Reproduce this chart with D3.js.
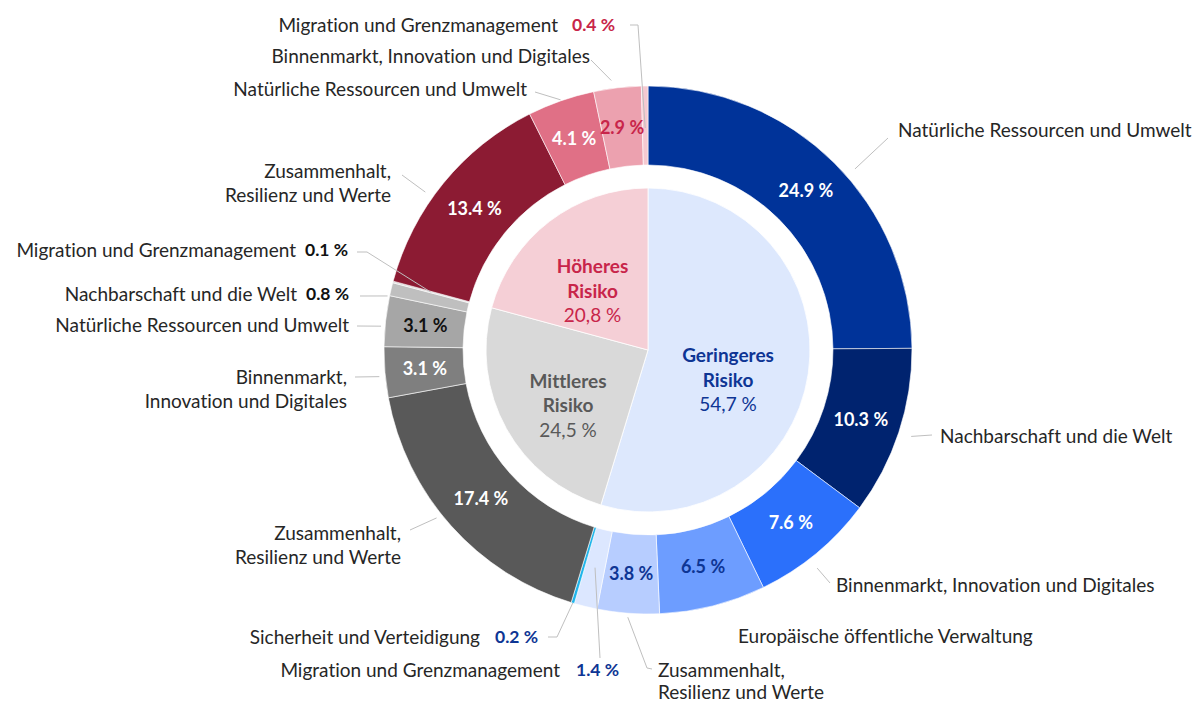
<!DOCTYPE html>
<html>
<head>
<meta charset="utf-8">
<script src="https://cdn.jsdelivr.net/npm/d3@7"></script>
<style>
  body { margin: 0; background: #fff; }
  svg { display: block; font-family: Lato, "Open Sans", sans-serif; font-variant-ligatures: none; }
</style>
</head>
<body>
<svg width="1195" height="702"></svg>
<script>
// inner pie: share by risk level
var riskLevels = ["Geringeres Risiko", "Mittleres Risiko", "Höheres Risiko"];
var riskShares = [54.7, 24.5, 20.8];

// outer ring: areas inside each risk level, clockwise from 12 o'clock
var geringeresAreas = ["Natürliche Ressourcen und Umwelt", "Nachbarschaft und die Welt",
  "Binnenmarkt, Innovation und Digitales", "Europäische öffentliche Verwaltung",
  "Zusammenhalt, Resilienz und Werte", "Migration und Grenzmanagement", "Sicherheit und Verteidigung"];
var geringeresShares = [24.9, 10.3, 7.6, 6.5, 3.8, 1.4, 0.2];

var mittleresAreas = ["Zusammenhalt, Resilienz und Werte", "Binnenmarkt, Innovation und Digitales",
  "Natürliche Ressourcen und Umwelt", "Nachbarschaft und die Welt", "Migration und Grenzmanagement"];
var mittleresShares = [17.4, 3.1, 3.1, 0.8, 0.1];

var hoeheresAreas = ["Zusammenhalt, Resilienz und Werte", "Natürliche Ressourcen und Umwelt",
  "Binnenmarkt, Innovation und Digitales", "Migration und Grenzmanagement"];
var hoeheresShares = [13.4, 4.1, 2.9, 0.4];

// colours
var innerColors = ["#dde8fd", "#d9d9d9", "#f5cfd6"];
var innerTextColors = ["#0e3594", "#595959", "#c8254a"];
var outerColors = ["#003399", "#00236f", "#2b70fb", "#6d9dff", "#b7cdff", "#dce7ff", "#1fb4ea",
  "#595959", "#7f7f7f", "#a6a6a6", "#bfbfbf", "#d9d9d9",
  "#8c1b33", "#e07086", "#eca1af", "#f5c9d1"];
var pctColors = ["#fff", "#fff", "#fff", "#0e3594", "#0e3594", "#0e3594", "#0e3594",
  "#fff", "#fff", "#111", "#111", "#111",
  "#fff", "#fff", "#c8254a", "#c8254a"];

// label placement, one entry per outer slice (same order)
// inside: percentage drawn in the ring; wrap: break name after the comma
// lead: leader line, da = angle shift (deg) of the ring end, r = radius of ring end
var outerLabelLayout = [
  {x: 898, y: 130, anchor: "start", inside: true, lead: {da: 4, r: 275, pts: [[888, 138]]}},
  {x: 940, y: 436, anchor: "start", inside: true, lead: {da: 0, r: 277, pts: [[932, 435]]}},
  {x: 836, y: 585, anchor: "start", inside: true, lead: {da: 1.8, r: 276, pts: [[830, 583]]}},
  {x: 738, y: 636, anchor: "start", inside: true, lead: null},
  {x: 658, y: 670, anchor: "start", inside: true, wrap: true, gap: 22, lead: {da: 0, r: 268, pts: [[652, 669], [647, 668]]}},
  {x: 560, y: 670, anchor: "end", inside: false, px: 576, lead: {da: 0, r: 224, pts: [[600, 658]]}},
  {x: 480, y: 637, anchor: "end", inside: false, px: 495, lead: {da: 0, r: 264, pts: [[548, 637], [557, 637]]}},
  {x: 401, y: 533, anchor: "end", inside: true, wrap: true, lead: {da: 3.3, r: 270, pts: [[410, 530]]}},
  {x: 347, y: 377, anchor: "end", inside: true, wrap: true, lead: {da: -0.8, r: 270, pts: [[355, 377]]}},
  {x: 349, y: 325, anchor: "end", inside: true, lead: {da: -1.2, r: 268, pts: [[357, 326]]}},
  {x: 297, y: 294, anchor: "end", inside: false, px: 306, lead: {da: -1.6, r: 266, pts: [[360, 296]]}},
  {x: 296, y: 250, anchor: "end", inside: false, px: 305, lead: {da: 0, r: 225, pts: [[357, 252], [367, 252]]}},
  {x: 391, y: 171, anchor: "end", inside: true, wrap: true, lead: {da: -3.9, r: 273, pts: [[402, 175]]}},
  {x: 527, y: 89, anchor: "end", inside: true, lead: {da: 0, r: 265, pts: [[535, 92]]}},
  {x: 590, y: 56, anchor: "end", inside: true, lead: {da: -1.1, r: 272, pts: [[591, 60]]}},
  {x: 558, y: 25, anchor: "end", inside: false, px: 572, lead: {da: 0, r: 222, pts: [[630, 25], [638, 25]]}}
];
var innerLabelNudge = [[-7, 17], [-3, 13], [-2, 11]];

var cx = 648, cy = 350;
var rPie = 162, rRingIn = 185, rRingOut = 264, rPctLabel = 224;
var lineGap = 24.5;
var textColor = "#262626", leaderColor = "#bfbfbf";

var svg = d3.select("svg");
var g = svg.append("g").attr("transform", "translate(" + cx + "," + cy + ")");

var innerData = riskLevels.map((d, i) => ({name: d, value: riskShares[i], i: i}));

var outerData = [];
function addGroup(areas, shares) {
  areas.forEach((a, j) => outerData.push({name: a, value: shares[j], i: outerData.length}));
}
addGroup(geringeresAreas, geringeresShares);
addGroup(mittleresAreas, mittleresShares);
addGroup(hoeheresAreas, hoeheresShares);

var pie = d3.pie().sort(null).value(d => d.value);
var innerArcs = pie(innerData);
var outerArcs = pie(outerData);

var innerArc = d3.arc().innerRadius(0).outerRadius(rPie);
var outerArc = d3.arc().innerRadius(rRingIn).outerRadius(rRingOut);

g.selectAll("path.inner")
  .data(innerArcs)
  .join("path")
  .attr("class", "inner")
  .attr("d", innerArc)
  .attr("fill", d => innerColors[d.data.i])
  .attr("stroke", "#fff")
  .attr("stroke-width", 0.8);

g.selectAll("path.outer")
  .data(outerArcs)
  .join("path")
  .attr("class", "outer")
  .attr("d", outerArc)
  .attr("fill", d => outerColors[d.data.i])
  .attr("stroke", "#fff")
  .attr("stroke-width", 0.6);

function midAngle(d) { return (d.startAngle + d.endAngle) / 2; }

function fmtPct(v) { return d3.format(".1f")(v) + " %"; }

// leader lines (drawn in page coords)
var leaders = svg.append("g")
  .attr("fill", "none")
  .attr("stroke", leaderColor)
  .attr("stroke-width", 1);

outerArcs.forEach(d => {
  var lay = outerLabelLayout[d.data.i];
  if (!lay.lead) return;
  var a = midAngle(d) + lay.lead.da * Math.PI / 180;
  var p = d3.pointRadial(a, lay.lead.r);
  var pts = lay.lead.pts.concat([[cx + p[0], cy + p[1]]]);
  leaders.append("path").attr("d", d3.line()(pts));
});

// percentages inside the ring
g.selectAll("text.pct")
  .data(outerArcs.filter(d => outerLabelLayout[d.data.i].inside))
  .join("text")
  .attr("class", "pct")
  .attr("transform", d => {
    var p = d3.pointRadial(midAngle(d), rPctLabel);
    return "translate(" + p[0] + "," + p[1] + ")";
  })
  .attr("text-anchor", "middle")
  .attr("dy", "0.35em")
  .attr("font-size", 18)
  .attr("font-weight", 700)
  .attr("fill", d => pctColors[d.data.i])
  .text(d => fmtPct(d.data.value));

// area names outside the ring
var labels = svg.append("g").attr("font-size", 19).attr("fill", textColor);

outerArcs.forEach(d => {
  var lay = outerLabelLayout[d.data.i];
  var lines = lay.wrap ? d.data.name.replace(", ", ",|").split("|") : [d.data.name];
  var gap = lay.gap || lineGap;
  var t = labels.append("text")
    .attr("text-anchor", lay.anchor);
  lines.forEach((l, k) => {
    t.append("tspan")
      .attr("x", lay.x)
      .attr("y", lay.y + k * gap)
      .attr("dy", "0.35em")
      .text(l);
  });
  if (!lay.inside) {
    labels.append("text")
      .attr("x", lay.px)
      .attr("y", lay.y)
      .attr("dy", "0.35em")
      .attr("font-size", 17.5)
      .attr("font-weight", 700)
      .attr("fill", pctColors[d.data.i])
      .text(fmtPct(d.data.value));
  }
});

// risk level labels in the pie
innerArcs.forEach(d => {
  var i = d.data.i;
  var p = d3.pointRadial(midAngle(d), 88);
  var x = p[0] + innerLabelNudge[i][0], y = p[1] + innerLabelNudge[i][1];
  var words = d.data.name.split(" ");
  var t = g.append("text")
    .attr("text-anchor", "middle")
    .attr("font-size", 19)
    .attr("fill", innerTextColors[i]);
  words.forEach((w, k) => {
    t.append("tspan")
      .attr("x", x)
      .attr("y", y + (k - 1) * lineGap)
      .attr("dy", "0.35em")
      .attr("font-weight", 700)
      .text(w);
  });
  t.append("tspan")
    .attr("x", x)
    .attr("y", y + lineGap)
    .attr("dy", "0.35em")
    .text(d3.format(".1f")(d.data.value).replace(".", ",") + " %");
});
</script>
</body>
</html>
